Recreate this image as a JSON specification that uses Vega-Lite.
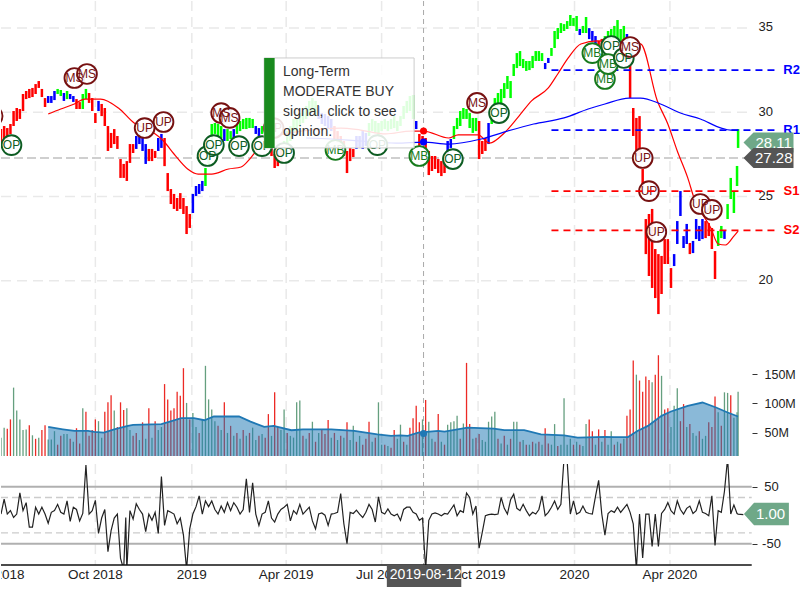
{"$schema":"https://vega.github.io/schema/vega-lite/v6.json","padding":0,"background":"white","config":{"view":{"stroke":null},"font":"Liberation Sans"},"spacing":0,"bounds":"flush","resolve":{"scale":{"color":"independent"}},
"datasets":{
"ticks":[{"d":"2018-07-01","t":"Jul 2018"},{"d":"2018-10-01","t":"Oct 2018"},{"d":"2019-01-01","t":"2019"},{"d":"2019-04-01","t":"Apr 2019"},{"d":"2019-07-01","t":"Jul 2019"},{"d":"2019-10-01","t":"Oct 2019"},{"d":"2020-01-01","t":"2020"},{"d":"2020-04-01","t":"Apr 2020"}],
"cross":[{"d":"2019-08-10"}],
"levels":[{"d":"2019-12-10","d2":"2020-07-11","x":"2020-07-26","p":32.5,"n":"R2","c":"b"},{"d":"2019-12-10","d2":"2020-07-11","x":"2020-07-26","p":28.94,"n":"R1","c":"b"},{"d":"2019-12-10","d2":"2020-07-11","x":"2020-07-26","p":25.32,"n":"S1","c":"r"},{"d":"2019-12-10","d2":"2020-07-11","x":"2020-07-26","p":22.99,"n":"S2","c":"r"}],
"sig":[{"d":"2018-06-25","p":29.77,"k":"UP"},{"d":"2018-07-13","p":28.05,"k":"OP"},{"d":"2018-09-11","p":32.03,"k":"MS"},{"d":"2018-09-23","p":32.27,"k":"MS"},{"d":"2018-11-17","p":29.06,"k":"UP"},{"d":"2018-12-05","p":29.42,"k":"UP"},{"d":"2019-01-16","p":27.4,"k":"OP"},{"d":"2019-01-22","p":28.05,"k":"OP"},{"d":"2019-01-29","p":29.95,"k":"MS"},{"d":"2019-02-06","p":29.66,"k":"MS"},{"d":"2019-02-15","p":27.99,"k":"OP"},{"d":"2019-03-20","p":29.06,"k":"UP"},{"d":"2019-03-09","p":27.99,"k":"OP"},{"d":"2019-03-30","p":27.58,"k":"OP"},{"d":"2019-05-18","p":27.76,"k":"MB"},{"d":"2019-06-27","p":28.05,"k":"OP"},{"d":"2019-08-06","p":27.4,"k":"MB"},{"d":"2019-09-07","p":27.22,"k":"OP"},{"d":"2019-09-30","p":30.55,"k":"MS"},{"d":"2019-10-21","p":29.95,"k":"OP"},{"d":"2020-01-18","p":33.51,"k":"MB"},{"d":"2020-01-30","p":31.97,"k":"MB"},{"d":"2020-02-05","p":33.93,"k":"OP"},{"d":"2020-02-02","p":32.86,"k":"MB"},{"d":"2020-02-17","p":33.22,"k":"OP"},{"d":"2020-02-23","p":33.87,"k":"MS"},{"d":"2020-03-06","p":27.28,"k":"UP"},{"d":"2020-03-12","p":25.32,"k":"UP"},{"d":"2020-03-19","p":22.89,"k":"UP"},{"d":"2020-04-30","p":24.55,"k":"UP"},{"d":"2020-05-11","p":24.2,"k":"UP"}],
"ma":[{"d":"2018-08-17","p":29.89,"c":"r"},{"d":"2018-08-29","p":30.19,"c":"r"},{"d":"2018-09-11","p":30.49,"c":"r"},{"d":"2018-09-21","p":30.78,"c":"r"},{"d":"2018-10-06","p":30.78,"c":"r"},{"d":"2018-10-23","p":30.25,"c":"r"},{"d":"2018-11-07","p":29.36,"c":"r"},{"d":"2018-11-23","p":28.88,"c":"r"},{"d":"2018-12-05","p":28.29,"c":"r"},{"d":"2018-12-15","p":27.52,"c":"r"},{"d":"2018-12-28","p":26.63,"c":"r"},{"d":"2019-01-07","p":26.33,"c":"r"},{"d":"2019-01-20","p":26.33,"c":"r"},{"d":"2019-02-05","p":26.63,"c":"r"},{"d":"2019-02-17","p":26.75,"c":"r"},{"d":"2019-02-26","p":27.28,"c":"r"},{"d":"2019-03-05","p":27.82,"c":"r"},{"d":"2019-03-15","p":28.41,"c":"r"},{"d":"2019-04-05","p":28.77,"c":"r"},{"d":"2019-05-05","p":29.0,"c":"r"},{"d":"2019-05-23","p":29.06,"c":"r"},{"d":"2019-06-11","p":28.94,"c":"r"},{"d":"2019-07-05","p":28.71,"c":"r"},{"d":"2019-07-29","p":28.88,"c":"r"},{"d":"2019-08-10","p":28.88,"c":"r"},{"d":"2019-09-03","p":28.47,"c":"r"},{"d":"2019-09-12","p":28.65,"c":"r"},{"d":"2019-10-01","p":28.65,"c":"r"},{"d":"2019-10-12","p":28.17,"c":"r"},{"d":"2019-10-26","p":28.77,"c":"r"},{"d":"2019-11-09","p":29.77,"c":"r"},{"d":"2019-11-21","p":30.67,"c":"r"},{"d":"2019-12-07","p":31.44,"c":"r"},{"d":"2019-12-16","p":32.27,"c":"r"},{"d":"2019-12-26","p":33.22,"c":"r"},{"d":"2020-01-07","p":34.05,"c":"r"},{"d":"2020-01-23","p":34.23,"c":"r"},{"d":"2020-03-04","p":34.05,"c":"r"},{"d":"2020-03-20","p":30.67,"c":"r"},{"d":"2020-03-30","p":29.3,"c":"r"},{"d":"2020-04-08","p":27.7,"c":"r"},{"d":"2020-04-18","p":26.1,"c":"r"},{"d":"2020-04-24","p":24.91,"c":"r"},{"d":"2020-05-10","p":23.13,"c":"r"},{"d":"2020-05-17","p":22.18,"c":"r"},{"d":"2020-05-24","p":22.12,"c":"r"},{"d":"2020-06-01","p":22.65,"c":"r"},{"d":"2020-06-05","p":22.95,"c":"r"},
{"d":"2019-04-20","p":28.47,"c":"b"},{"d":"2019-05-14","p":28.41,"c":"b"},{"d":"2019-06-11","p":28.29,"c":"b"},{"d":"2019-07-15","p":28.17,"c":"b"},{"d":"2019-08-10","p":28.23,"c":"b"},{"d":"2019-09-03","p":28.11,"c":"b"},{"d":"2019-10-04","p":28.41,"c":"b"},{"d":"2019-10-29","p":28.88,"c":"b"},{"d":"2019-11-23","p":29.3,"c":"b"},{"d":"2019-12-22","p":29.66,"c":"b"},{"d":"2020-01-14","p":30.19,"c":"b"},{"d":"2020-01-30","p":30.49,"c":"b"},{"d":"2020-02-22","p":30.84,"c":"b"},{"d":"2020-03-04","p":30.84,"c":"b"},{"d":"2020-03-23","p":30.49,"c":"b"},{"d":"2020-04-11","p":29.95,"c":"b"},{"d":"2020-04-30","p":29.6,"c":"b"},{"d":"2020-05-20","p":29.06,"c":"b"},{"d":"2020-05-29","p":28.94,"c":"b"},{"d":"2020-06-05","p":28.94,"c":"b"}],
"vm":[{"d":"2018-08-17","m":60.2},{"d":"2018-08-31","m":56.2},{"d":"2018-09-11","m":53.4},{"d":"2018-09-24","m":53.4},{"d":"2018-09-30","m":51.7},{"d":"2018-10-09","m":50.6},{"d":"2018-10-19","m":56.2},{"d":"2018-11-01","m":62},{"d":"2018-11-06","m":63.7},{"d":"2018-12-03","m":64.8},{"d":"2018-12-11","m":69.3},{"d":"2018-12-22","m":75},{"d":"2019-01-03","m":75},{"d":"2019-01-13","m":71.6},{"d":"2019-01-22","m":77.9},{"d":"2019-02-15","m":77.9},{"d":"2019-02-26","m":69.3},{"d":"2019-03-11","m":60.2},{"d":"2019-03-20","m":62},{"d":"2019-04-06","m":54.6},{"d":"2019-04-17","m":56.2},{"d":"2019-05-14","m":56.2},{"d":"2019-06-05","m":53.4},{"d":"2019-06-27","m":47.7},{"d":"2019-07-10","m":44.9},{"d":"2019-07-19","m":46},{"d":"2019-07-26","m":44.9},{"d":"2019-08-05","m":50.6},{"d":"2019-08-24","m":53.4},{"d":"2019-08-30","m":52.3},{"d":"2019-09-21","m":59.1},{"d":"2019-10-16","m":57.4},{"d":"2019-10-26","m":54.6},{"d":"2019-11-14","m":54.6},{"d":"2019-11-30","m":47.7},{"d":"2019-12-22","m":46},{"d":"2020-01-04","m":42},{"d":"2020-01-30","m":43.2},{"d":"2020-02-08","m":43},{"d":"2020-02-21","m":43},{"d":"2020-03-01","m":53.4},{"d":"2020-03-11","m":62},{"d":"2020-03-24","m":79},{"d":"2020-04-02","m":86.4},{"d":"2020-04-18","m":96},{"d":"2020-05-02","m":101.7},{"d":"2020-05-15","m":93.2},{"d":"2020-05-26","m":84.7},{"d":"2020-06-05","m":77.9}],
"bars":[
{"d":"2018-07-03","l":28.2,"h":29,"c":"r","v":42,"k":"g","o":2},
{"d":"2018-07-06","l":28,"h":29.18,"c":"r","v":59,"k":"g","o":28},
{"d":"2018-07-09","l":28.29,"h":29.06,"c":"r","v":57,"k":"r","o":2},
{"d":"2018-07-12","l":28.7,"h":29.3,"c":"r","v":73,"k":"r","o":8},
{"d":"2018-07-15","l":29.18,"h":30.07,"c":"r","v":127,"k":"g","o":-4},
{"d":"2018-07-18","l":29.48,"h":30.25,"c":"r","v":88,"k":"g","o":2},
{"d":"2018-07-21","l":29.6,"h":30.19,"c":"r","v":73,"k":"g","o":39},
{"d":"2018-07-24","l":30.07,"h":31.08,"c":"r","v":55,"k":"g","o":8},
{"d":"2018-07-27","l":30.78,"h":31.26,"c":"r","v":56,"k":"g","o":22},
{"d":"2018-07-30","l":30.84,"h":31.38,"c":"r","v":63,"k":"r","o":-21},
{"d":"2018-08-02","l":30.9,"h":31.44,"c":"r","v":46,"k":"g","o":-21},
{"d":"2018-08-05","l":31.08,"h":31.67,"c":"r","v":40,"k":"r","o":14},
{"d":"2018-08-08","l":31.44,"h":31.85,"c":"r","v":42,"k":"g","o":2},
{"d":"2018-08-11","l":30.9,"h":31.38,"c":"r","v":55,"k":"r","o":14},
{"d":"2018-08-14","l":30.31,"h":30.84,"c":"r","v":63,"k":"r","o":2},
{"d":"2018-08-17","l":30.55,"h":30.96,"c":"b","v":39,"k":"g","o":-14},
{"d":"2018-08-20","l":30.55,"h":30.96,"c":"b","v":39,"k":"g","o":5},
{"d":"2018-08-23","l":30.72,"h":31.26,"c":"b","v":53,"k":"g","o":8},
{"d":"2018-08-26","l":31.08,"h":31.38,"c":"g","v":30,"k":"r","o":19},
{"d":"2018-08-29","l":30.96,"h":31.32,"c":"g","v":45,"k":"r","o":5},
{"d":"2018-09-01","l":30.67,"h":31.14,"c":"b","v":48,"k":"g","o":2},
{"d":"2018-09-04","l":30.78,"h":31.26,"c":"g","v":48,"k":"g","o":25},
{"d":"2018-09-07","l":30.78,"h":31.08,"c":"b","v":40,"k":"r","o":-11},
{"d":"2018-09-10","l":30.61,"h":30.96,"c":"b","v":35,"k":"g","o":14},
{"d":"2018-09-13","l":30.19,"h":30.78,"c":"r","v":58,"k":"r","o":10},
{"d":"2018-09-16","l":30.19,"h":30.6,"c":"r","v":32,"k":"r","o":-10},
{"d":"2018-09-19","l":30.19,"h":31.08,"c":"g","v":92,"k":"g","o":3},
{"d":"2018-09-22","l":30.78,"h":31.38,"c":"g","v":86,"k":"r","o":88},
{"d":"2018-09-25","l":30.55,"h":31.14,"c":"r","v":45,"k":"r","o":2},
{"d":"2018-09-28","l":30.07,"h":30.84,"c":"r","v":55,"k":"r","o":8},
{"d":"2018-10-01","l":29.36,"h":29.95,"c":"r","v":73,"k":"r","o":26},
{"d":"2018-10-04","l":30.07,"h":30.67,"c":"b","v":70,"k":"g","o":-32},
{"d":"2018-10-07","l":29.77,"h":30.49,"c":"r","v":42,"k":"g","o":-5},
{"d":"2018-10-10","l":29.18,"h":30.25,"c":"r","v":86,"k":"r","o":10},
{"d":"2018-10-13","l":27.7,"h":29.18,"c":"r","v":102,"k":"r","o":-64},
{"d":"2018-10-16","l":27.88,"h":28.77,"c":"r","v":114,"k":"r","o":-27},
{"d":"2018-10-19","l":28.11,"h":29,"c":"r","v":88,"k":"g","o":-5},
{"d":"2018-10-22","l":27.82,"h":28.59,"c":"r","v":60,"k":"r","o":2},
{"d":"2018-10-25","l":26.1,"h":27.22,"c":"r","v":102,"k":"r","o":-76},
{"d":"2018-10-28","l":26.1,"h":26.93,"c":"r","v":89,"k":"r","o":-95},
{"d":"2018-10-30","o":-4},
{"d":"2018-10-31","l":25.92,"h":27.1,"c":"r","v":92,"k":"g","o":-95},
{"d":"2018-11-03","l":26.99,"h":28.11,"c":"r","v":55,"k":"g","o":8},
{"d":"2018-11-06","l":27.58,"h":28.11,"c":"r","v":45,"k":"r","o":-7},
{"d":"2018-11-09","l":27.82,"h":28.59,"c":"b","v":50,"k":"r","o":20},
{"d":"2018-11-12","l":28.11,"h":28.71,"c":"b","v":38,"k":"g","o":10},
{"d":"2018-11-15","l":27.7,"h":28.47,"c":"b","v":68,"k":"r","o":2},
{"d":"2018-11-18","l":26.93,"h":28.11,"c":"b","v":40,"k":"g","o":-29},
{"d":"2018-11-21","l":27.1,"h":27.82,"c":"r","v":92,"k":"r","o":2},
{"d":"2018-11-24","l":27.1,"h":27.82,"c":"r","v":42,"k":"g","o":-9},
{"d":"2018-11-27","l":27.28,"h":27.7,"c":"r","v":70,"k":"r","o":5},
{"d":"2018-11-30","l":27.7,"h":28.47,"c":"b","v":55,"k":"g","o":-32},
{"d":"2018-12-03","l":27.88,"h":28.71,"c":"b","v":60,"k":"g","o":68},
{"d":"2018-12-06","l":26.8,"h":28.47,"c":"r","v":133,"k":"r","o":-18},
{"d":"2018-12-09","l":25.32,"h":26.39,"c":"r","v":107,"k":"r","o":8},
{"d":"2018-12-12","l":24.55,"h":25.44,"c":"r","v":88,"k":"r","o":5},
{"d":"2018-12-15","l":24.26,"h":25.15,"c":"r","v":92,"k":"r","o":2},
{"d":"2018-12-18","l":24.14,"h":24.91,"c":"r","v":120,"k":"r","o":-15},
{"d":"2018-12-21","l":24.26,"h":25.2,"c":"r","v":113,"k":"r","o":-5},
{"d":"2018-12-24","l":23.96,"h":24.91,"c":"r","v":160,"k":"r","o":-35},
{"d":"2018-12-27","l":22.77,"h":24.43,"c":"r","v":101,"k":"g","o":-95},
{"d":"2018-12-30","l":23.13,"h":23.96,"c":"r","v":73,"k":"r","o":-24},
{"d":"2019-01-02","l":24.02,"h":25.15,"c":"b","v":84,"k":"g","o":2},
{"d":"2019-01-05","l":25.03,"h":25.62,"c":"b","v":60,"k":"g","o":15},
{"d":"2019-01-08","l":25.15,"h":25.74,"c":"b","v":50,"k":"r","o":34},
{"d":"2019-01-11","l":25.32,"h":25.92,"c":"b","v":73,"k":"g","o":2},
{"d":"2019-01-14","l":25.62,"h":26.69,"c":"g","v":164,"k":"g","o":25},
{"d":"2019-01-17","l":26.8,"h":28.29,"c":"g","v":107,"k":"g","o":15},
{"d":"2019-01-20","l":28.29,"h":29.3,"c":"g","v":90,"k":"g","o":25},
{"d":"2019-01-23","l":28.71,"h":29.36,"c":"g","v":70,"k":"g","o":10},
{"d":"2019-01-26","l":28.47,"h":29.3,"c":"g","v":62,"k":"r","o":2},
{"d":"2019-01-29","l":28.47,"h":29.18,"c":"g","v":55,"k":"g","o":16},
{"d":"2019-02-01","l":28.29,"h":29,"c":"b","v":102,"k":"r","o":5},
{"d":"2019-02-04","l":28.29,"h":29,"c":"g","v":50,"k":"g","o":22},
{"d":"2019-02-07","l":28.41,"h":28.88,"c":"g","v":62,"k":"r","o":8},
{"d":"2019-02-10","l":28.41,"h":29,"c":"b","v":45,"k":"g","o":22},
{"d":"2019-02-13","l":28.71,"h":29.36,"c":"g","v":50,"k":"r","o":14},
{"d":"2019-02-16","l":28.88,"h":29.48,"c":"g","v":40,"k":"g","o":2},
{"d":"2019-02-19","l":29,"h":29.6,"c":"g","v":55,"k":"r","o":10},
{"d":"2019-02-22","l":29,"h":29.66,"c":"g","v":45,"k":"g","o":64},
{"d":"2019-02-25","l":29.06,"h":29.66,"c":"g","v":50,"k":"r","o":5},
{"d":"2019-02-28","l":29.06,"h":29.6,"c":"g","v":59,"k":"g","o":57},
{"d":"2019-03-03","l":28.71,"h":29.18,"c":"b","v":38,"k":"g","o":2},
{"d":"2019-03-06","l":28.59,"h":29.06,"c":"b","v":45,"k":"r","o":-18},
{"d":"2019-03-09","l":28.71,"h":29.18,"c":"g","v":48,"k":"g","o":2},
{"d":"2019-03-12","l":28.29,"h":29.18,"c":"r","v":42,"k":"r","o":5},
{"d":"2019-03-15","l":28,"h":29.18,"c":"r","v":82,"k":"r","o":25},
{"d":"2019-03-18","l":27.4,"h":28.29,"c":"r","v":45,"k":"g","o":-5},
{"d":"2019-03-21","l":26.69,"h":27.52,"c":"r","v":119,"k":"r","o":-12},
{"d":"2019-03-24","l":26.8,"h":27.7,"c":"r","v":60,"k":"r","o":2},
{"d":"2019-03-27","l":27.1,"h":27.82,"c":"r","v":55,"k":"g","o":10},
{"d":"2019-03-30","l":27.7,"h":28.29,"c":"g","v":90,"k":"g","o":14},
{"d":"2019-04-02","l":28,"h":28.88,"c":"g","v":50,"k":"r","o":19},
{"d":"2019-04-05","l":28.29,"h":29.18,"c":"g","v":45,"k":"g","o":-10},
{"d":"2019-04-08","l":28.77,"h":29.6,"c":"g","v":42,"k":"g","o":8},
{"d":"2019-04-11","l":28.88,"h":29.6,"c":"g","v":102,"k":"g","o":2},
{"d":"2019-04-14","l":29.18,"h":29.95,"c":"g","v":105,"k":"g","o":19},
{"d":"2019-04-17","l":29.36,"h":30.07,"c":"g","v":45,"k":"r","o":2},
{"d":"2019-04-20","l":29.6,"h":30.37,"c":"g","v":40,"k":"g","o":8},
{"d":"2019-04-23","l":29.77,"h":30.67,"c":"g","v":50,"k":"r","o":14},
{"d":"2019-04-26","l":30.07,"h":30.84,"c":"g","v":69,"k":"g","o":-10},
{"d":"2019-04-29","l":29.77,"h":30.67,"c":"g","v":35,"k":"r","o":-24},
{"d":"2019-05-02","l":29.6,"h":30.37,"c":"b","v":50,"k":"g","o":2},
{"d":"2019-05-05","l":29.3,"h":29.95,"c":"b","v":55,"k":"r","o":4},
{"d":"2019-05-08","l":29.18,"h":29.9,"c":"b","v":48,"k":"r","o":0},
{"d":"2019-05-11","l":29.06,"h":29.77,"c":"b","v":72,"k":"r","o":-18},
{"d":"2019-05-14","l":28.88,"h":29.6,"c":"b","v":42,"k":"g","o":2},
{"d":"2019-05-17","l":28.41,"h":29.18,"c":"r","v":50,"k":"r","o":3},
{"d":"2019-05-20","l":28.17,"h":28.88,"c":"r","v":38,"k":"g","o":5},
{"d":"2019-05-23","l":27.7,"h":28.59,"c":"r","v":45,"k":"r","o":38},
{"d":"2019-05-26","l":27.4,"h":28.29,"c":"r","v":42,"k":"g","o":-15},
{"d":"2019-05-29","l":26.39,"h":27.7,"c":"r","v":68,"k":"r","o":-50},
{"d":"2019-06-01","l":27.1,"h":27.88,"c":"r","v":38,"k":"g","o":5},
{"d":"2019-06-04","l":27.34,"h":27.82,"c":"r","v":62,"k":"g","o":3},
{"d":"2019-06-07","l":27.82,"h":28.59,"c":"b","v":35,"k":"r","o":9},
{"d":"2019-06-10","l":27.93,"h":28.59,"c":"b","v":45,"k":"g","o":2},
{"d":"2019-06-13","l":27.82,"h":28.88,"c":"b","v":30,"k":"r","o":-4},
{"d":"2019-06-16","l":28,"h":28.77,"c":"b","v":40,"k":"r","o":5},
{"d":"2019-06-19","l":28.59,"h":29.36,"c":"g","v":69,"k":"r","o":19},
{"d":"2019-06-22","l":28.88,"h":29.6,"c":"g","v":35,"k":"g","o":10},
{"d":"2019-06-25","l":28.77,"h":29.48,"c":"g","v":42,"k":"r","o":-12},
{"d":"2019-06-28","l":28.65,"h":29.36,"c":"g","v":102,"k":"g","o":32},
{"d":"2019-07-01","l":28.88,"h":29.48,"c":"g","v":30,"k":"g","o":5},
{"d":"2019-07-04","l":29,"h":29.6,"c":"g","v":30,"k":"r","o":2},
{"d":"2019-07-07","l":28.88,"h":29.48,"c":"g","v":28,"k":"g","o":11},
{"d":"2019-07-10","l":29,"h":29.6,"c":"g","v":25,"k":"r","o":2},
{"d":"2019-07-13","l":29.06,"h":29.77,"c":"g","v":55,"k":"r","o":-1},
{"d":"2019-07-16","l":28.88,"h":29.48,"c":"g","v":40,"k":"g","o":2},
{"d":"2019-07-19","l":29.18,"h":29.77,"c":"g","v":64,"k":"g","o":-9},
{"d":"2019-07-22","l":29.6,"h":30.37,"c":"g","v":35,"k":"r","o":10},
{"d":"2019-07-25","l":29.95,"h":30.67,"c":"g","v":30,"k":"g","o":14},
{"d":"2019-07-28","l":30.07,"h":30.96,"c":"g","v":59,"k":"r","o":14},
{"d":"2019-07-31","l":29.6,"h":31.02,"c":"g","v":75,"k":"r","o":5},
{"d":"2019-08-03","l":29,"h":29.48,"c":"b","v":96,"k":"r","o":2},
{"d":"2019-08-06","l":28,"h":28.71,"c":"r","v":68,"k":"r","o":-9},
{"d":"2019-08-09","l":28.11,"h":28.59,"c":"r","v":73,"k":"g","o":-5},
{"d":"2019-08-12","l":27.7,"h":28.47,"c":"r","v":106,"k":"r","o":-95},
{"d":"2019-08-15","l":26.27,"h":27.7,"c":"r","v":69,"k":"g","o":-9},
{"d":"2019-08-18","l":26.51,"h":27.4,"c":"r","v":40,"k":"g","o":2},
{"d":"2019-08-21","l":26.63,"h":27.4,"c":"r","v":35,"k":"r","o":4},
{"d":"2019-08-24","l":26.39,"h":27.22,"c":"r","v":82,"k":"r","o":2},
{"d":"2019-08-27","l":26.21,"h":27.1,"c":"r","v":35,"k":"g","o":-1},
{"d":"2019-08-30","l":26.39,"h":27.4,"c":"r","v":30,"k":"r","o":3},
{"d":"2019-09-02","l":27.4,"h":28.29,"c":"b","v":64,"k":"g","o":2},
{"d":"2019-09-05","l":27.88,"h":28.41,"c":"b","v":68,"k":"g","o":10},
{"d":"2019-09-08","l":28.41,"h":29.18,"c":"g","v":70,"k":"g","o":18},
{"d":"2019-09-11","l":29,"h":29.66,"c":"g","v":79,"k":"g","o":-1},
{"d":"2019-09-14","l":29.18,"h":30.07,"c":"g","v":40,"k":"r","o":8},
{"d":"2019-09-17","l":29.6,"h":30.25,"c":"g","v":66,"k":"g","o":5},
{"d":"2019-09-20","l":29.6,"h":30.19,"c":"g","v":169,"k":"r","o":39},
{"d":"2019-09-23","l":29.06,"h":29.95,"c":"g","v":65,"k":"r","o":31},
{"d":"2019-09-26","l":28.77,"h":29.66,"c":"g","v":40,"k":"g","o":2},
{"d":"2019-09-29","l":28.88,"h":29.66,"c":"g","v":42,"k":"r","o":16},
{"d":"2019-10-02","l":27.22,"h":29.48,"c":"r","v":48,"k":"r","o":-58},
{"d":"2019-10-05","l":27.52,"h":28.29,"c":"r","v":38,"k":"g","o":-30},
{"d":"2019-10-08","l":27.7,"h":28.47,"c":"r","v":35,"k":"g","o":-1},
{"d":"2019-10-11","l":28.11,"h":29.36,"c":"b","v":69,"k":"g","o":1},
{"d":"2019-10-14","l":29.3,"h":30.07,"c":"g","v":78,"k":"g","o":2},
{"d":"2019-10-17","l":30.07,"h":30.84,"c":"g","v":86,"k":"g","o":1},
{"d":"2019-10-20","l":30.37,"h":31.14,"c":"g","v":40,"k":"r","o":2},
{"d":"2019-10-23","l":30.25,"h":31.38,"c":"g","v":32,"k":"g","o":31},
{"d":"2019-10-26","l":30.84,"h":31.73,"c":"g","v":45,"k":"r","o":12},
{"d":"2019-10-29","l":31.38,"h":32.15,"c":"g","v":30,"k":"g","o":2},
{"d":"2019-11-01","l":30.84,"h":31.85,"c":"g","v":40,"k":"r","o":27},
{"d":"2019-11-04","l":32.15,"h":32.86,"c":"g","v":69,"k":"g","o":37},
{"d":"2019-11-07","l":32.62,"h":33.51,"c":"g","v":69,"k":"g","o":12},
{"d":"2019-11-10","l":32.74,"h":33.63,"c":"g","v":35,"k":"r","o":8},
{"d":"2019-11-13","l":32.62,"h":33.16,"c":"g","v":38,"k":"g","o":19},
{"d":"2019-11-16","l":32.45,"h":33.04,"c":"g","v":30,"k":"r","o":8},
{"d":"2019-11-19","l":32.5,"h":33.04,"c":"g","v":30,"k":"g","o":-1},
{"d":"2019-11-22","l":32.62,"h":33.34,"c":"g","v":35,"k":"r","o":5},
{"d":"2019-11-25","l":33.04,"h":33.63,"c":"g","v":32,"k":"g","o":2},
{"d":"2019-11-28","l":33.04,"h":33.63,"c":"g","v":35,"k":"r","o":10},
{"d":"2019-12-01","l":33.04,"h":33.51,"c":"g","v":30,"k":"g","o":34},
{"d":"2019-12-04","l":32.56,"h":32.92,"c":"b","v":58,"k":"r","o":-1},
{"d":"2019-12-07","l":32.92,"h":33.22,"c":"b","v":32,"k":"r","o":5},
{"d":"2019-12-10","l":33.34,"h":33.81,"c":"g","v":30,"k":"g","o":14},
{"d":"2019-12-13","l":33.81,"h":34.82,"c":"g","v":65,"k":"g","o":25},
{"d":"2019-12-16","l":34.34,"h":35,"c":"g","v":28,"k":"r","o":10},
{"d":"2019-12-19","l":34.7,"h":35.29,"c":"g","v":30,"k":"g","o":19},
{"d":"2019-12-22","l":34.82,"h":35.23,"c":"g","v":109,"k":"g","o":100},
{"d":"2019-12-25","l":34.94,"h":35.41,"c":"g","v":30,"k":"g","o":95},
{"d":"2019-12-28","l":35.12,"h":35.77,"c":"g","v":40,"k":"g","o":2},
{"d":"2019-12-31","l":35.12,"h":35.59,"c":"g","v":30,"k":"r","o":25},
{"d":"2020-01-03","l":34.82,"h":35.71,"c":"g","v":35,"k":"g","o":2},
{"d":"2020-01-06","l":34.58,"h":34.94,"c":"b","v":30,"k":"r","o":5},
{"d":"2020-01-09","l":34.7,"h":35.12,"c":"g","v":28,"k":"g","o":16},
{"d":"2020-01-12","l":34.7,"h":35.65,"c":"g","v":65,"k":"g","o":5},
{"d":"2020-01-15","l":34.34,"h":34.99,"c":"b","v":73,"k":"r","o":3},
{"d":"2020-01-18","l":34.23,"h":34.82,"c":"b","v":53,"k":"r","o":2},
{"d":"2020-01-21","l":33.93,"h":34.52,"c":"b","v":30,"k":"g","o":33},
{"d":"2020-01-24","l":33.75,"h":34.23,"c":"r","v":56,"k":"r","o":61},
{"d":"2020-01-27","l":33.87,"h":34.35,"c":"r","v":35,"k":"g","o":2},
{"d":"2020-01-30","l":34.05,"h":34.52,"c":"g","v":55,"k":"r","o":-35},
{"d":"2020-02-02","l":34.11,"h":34.82,"c":"g","v":30,"k":"g","o":3},
{"d":"2020-02-05","l":34.34,"h":34.94,"c":"g","v":53,"k":"g","o":8},
{"d":"2020-02-08","l":34.34,"h":35.12,"c":"g","v":30,"k":"r","o":5},
{"d":"2020-02-11","l":34.34,"h":35.47,"c":"g","v":35,"k":"g","o":14},
{"d":"2020-02-14","l":34.23,"h":34.94,"c":"g","v":32,"k":"r","o":5},
{"d":"2020-02-17","l":34.23,"h":35.12,"c":"g","v":40,"k":"g","o":12},
{"d":"2020-02-20","l":34.23,"h":34.64,"c":"b","v":79,"k":"r","o":19},
{"d":"2020-02-23","l":30.84,"h":33.63,"c":"r","v":90,"k":"r","o":5},
{"d":"2020-02-26","l":28.59,"h":30.25,"c":"r","v":173,"k":"r","o":-15},
{"d":"2020-02-29","l":27.4,"h":29.66,"c":"r","v":149,"k":"g","o":-95},
{"d":"2020-03-03","l":27.4,"h":29.77,"c":"r","v":139,"k":"r","o":2},
{"d":"2020-03-06","l":25.5,"h":26.63,"c":"r","v":120,"k":"r","o":-75},
{"d":"2020-03-09","l":21.58,"h":23.66,"c":"r","v":146,"k":"r","o":2},
{"d":"2020-03-12","l":20.28,"h":23.96,"c":"r","v":140,"k":"r","o":2},
{"d":"2020-03-15","l":19.57,"h":24.26,"c":"r","v":136,"k":"g","o":-55},
{"d":"2020-03-18","l":18.97,"h":21.88,"c":"r","v":149,"k":"r","o":2},
{"d":"2020-03-21","l":18.02,"h":21.58,"c":"r","v":182,"k":"r","o":-55},
{"d":"2020-03-24","l":19.21,"h":21.47,"c":"r","v":147,"k":"g","o":3},
{"d":"2020-03-27","l":20.99,"h":22.47,"c":"r","v":90,"k":"r","o":10},
{"d":"2020-03-30","l":20.99,"h":22.47,"c":"r","v":92,"k":"r","o":22},
{"d":"2020-04-02","l":19.57,"h":20.75,"c":"r","v":60,"k":"g","o":8},
{"d":"2020-04-05","l":20.87,"h":21.58,"c":"b","v":96,"k":"g","o":2},
{"d":"2020-04-08","l":22.18,"h":23.54,"c":"b","v":126,"k":"g","o":25},
{"d":"2020-04-11","l":23.84,"h":25.32,"c":"b","v":70,"k":"r","o":10},
{"d":"2020-04-14","l":21.94,"h":22.65,"c":"b","v":99,"k":"r","o":2},
{"d":"2020-04-17","l":22.18,"h":23.37,"c":"b","v":60,"k":"g","o":12},
{"d":"2020-04-20","l":21.58,"h":22.24,"c":"r","v":65,"k":"r","o":16},
{"d":"2020-04-23","l":21.64,"h":22.36,"c":"b","v":50,"k":"g","o":3},
{"d":"2020-04-26","l":22.47,"h":23.66,"c":"b","v":45,"k":"g","o":8},
{"d":"2020-04-29","l":22.36,"h":23.25,"c":"b","v":53,"k":"r","o":25},
{"d":"2020-05-02","l":22.47,"h":23.66,"c":"b","v":40,"k":"g","o":5},
{"d":"2020-05-05","l":22.53,"h":23.54,"c":"r","v":45,"k":"g","o":3},
{"d":"2020-05-08","l":22.65,"h":23.42,"c":"r","v":68,"k":"r","o":-1},
{"d":"2020-05-11","l":21.88,"h":23.13,"c":"r","v":60,"k":"r","o":34},
{"d":"2020-05-14","l":20.1,"h":21.76,"c":"r","v":112,"k":"r","o":-53},
{"d":"2020-05-17","l":22.06,"h":22.95,"c":"g","v":85,"k":"g","o":8},
{"d":"2020-05-20","l":22.53,"h":23.25,"c":"g","v":62,"k":"r","o":5},
{"d":"2020-05-23","l":22.48,"h":22.95,"c":"b","v":119,"k":"g","o":42},
{"d":"2020-05-26","l":23.66,"h":24.55,"c":"g","v":118,"k":"g","o":100},
{"d":"2020-05-29","l":24.85,"h":26.1,"c":"g","v":114,"k":"r","o":2},
{"d":"2020-06-01","l":24.02,"h":25.32,"c":"g","v":76,"k":"g","o":18},
{"d":"2020-06-04","l":25.62,"h":26.81,"c":"g","v":85,"k":"g","o":3},
{"d":"2020-06-05","l":27.88,"h":29,"c":"g","v":120,"k":"g","o":2},
{"d":"2020-06-10","o":1}
]},
"vconcat":[
{"width":800,"height":352,
"encoding":{"x":{"field":"d","type":"temporal","axis":null,"scale":{"type":"utc","domain":["2018-07-03","2020-08-04"],"nice":false}}},
"layer":[
{"data":{"values":[{"d":"2018-07-03","d2":"2020-06-18","p":35},{"d":"2018-07-03","d2":"2020-06-18","p":30},{"d":"2018-07-03","d2":"2020-06-18","p":25},{"d":"2018-07-03","d2":"2020-06-18","p":20}]},"mark":{"type":"rule","color":"#e9e9e9","strokeWidth":1.5,"strokeDash":[10,6]},"encoding":{"x2":{"field":"d2"},"y":{"field":"p","type":"quantitative","scale":{"domain":[15.71,36.6],"nice":false,"zero":false},"axis":{"orient":"right","offset":-49,"values":[20,25,30,35],"grid":false,"domain":false,"ticks":false,"title":null,"labelPadding":6,"labelFontSize":13,"labelColor":"#222","labelOffset":-1,"labelFont":"Liberation Sans"}}}},
{"data":{"name":"ticks"},"transform":[{"filter":"datum.t!='Jul 2018'"}],"mark":{"type":"rule","color":"#e9e9e9","strokeWidth":1.5,"strokeDash":[10,6]},"encoding":{}},
{"data":{"values":[{"d":"2018-07-03","d2":"2020-06-12","p":27.28}]},"mark":{"type":"rule","color":"#cfcfcf","strokeWidth":2,"strokeDash":[9,4]},"encoding":{"x2":{"field":"d2"},"y":{"field":"p","type":"quantitative"}}},
{"data":{"name":"cross"},"mark":{"type":"rule","color":"#aaaaaa","strokeWidth":1,"strokeDash":[5,4]},"encoding":{}},
{"data":{"name":"bars"},"transform":[{"filter":"datum.l"}],"mark":{"type":"rule","strokeWidth":2.5,"clip":true},"encoding":{"y":{"field":"l","type":"quantitative"},"y2":{"field":"h"},"color":{"field":"c","type":"nominal","legend":null,"scale":{"domain":["r","b","g"],"range":["#ff0000","#0000ff","#00ff00"]}}}},
{"data":{"name":"ma"},"mark":{"type":"line","strokeWidth":1.2,"interpolate":"monotone"},"encoding":{"y":{"field":"p","type":"quantitative"},"color":{"field":"c","type":"nominal","legend":null}}},
{"data":{"name":"levels"},"transform":[{"filter":"datum.n!='S1'"}],"mark":{"type":"rule","strokeWidth":1.7,"strokeDash":[7,5]},"encoding":{"x2":{"field":"d2"},"y":{"field":"p","type":"quantitative"},"color":{"field":"c","type":"nominal","legend":null}}},
{"data":{"name":"sig"},"mark":{"type":"circle","fill":"#ffffff","opacity":1,"fillOpacity":0.93,"size":390,"strokeWidth":1.9,"clip":true},"encoding":{"y":{"field":"p","type":"quantitative"},"stroke":{"field":"k","type":"nominal","legend":null,"scale":{"domain":["OP","MB","UP","MS"],"range":["#0d5c22","#167a1c","#761111","#761111"]}}}},
{"data":{"name":"sig"},"mark":{"type":"text","fontSize":12,"baseline":"middle","align":"center","clip":true},"encoding":{"y":{"field":"p","type":"quantitative"},"text":{"field":"k"},"fill":{"field":"k","type":"nominal","legend":null,"scale":{"domain":["OP","MB","UP","MS"],"range":["#0d5c22","#167a1c","#761111","#761111"]}}}},
{"data":{"name":"levels"},"transform":[{"filter":"datum.n=='S1'"}],"mark":{"type":"rule","strokeWidth":1.7,"strokeDash":[7,5]},"encoding":{"x2":{"field":"d2"},"y":{"field":"p","type":"quantitative"},"color":{"field":"c","type":"nominal","legend":null}}},
{"data":{"values":[{"d":"2019-08-10","p":28.88,"c":"r"},{"d":"2019-08-10","p":28.23,"c":"b"}]},"mark":{"type":"circle","size":50,"opacity":1},"encoding":{"y":{"field":"p","type":"quantitative"},"color":{"field":"c","type":"nominal","legend":null}}},
{"data":{"name":"levels"},"mark":{"type":"text","fontWeight":"bold","fontSize":13,"align":"center","baseline":"middle"},"encoding":{"x":{"field":"x","type":"temporal"},"y":{"field":"p","type":"quantitative"},"text":{"field":"n"},"color":{"field":"c","type":"nominal","legend":null}}},
{"data":{"values":[{"d":"2020-07-04","p":28.2}]},"mark":{"type":"point","shape":"M-1,0L-0.6,-0.4L1,-0.4L1,0.4L-0.6,0.4Z","filled":true,"size":2500,"fill":"#6fa888","opacity":1},"encoding":{"y":{"field":"p","type":"quantitative"}}},
{"data":{"values":[{"d":"2020-07-09","p":28.2,"t":"28.11"}]},"mark":{"type":"text","fill":"#ffffff","fontSize":15,"align":"center","baseline":"middle"},"encoding":{"y":{"field":"p","type":"quantitative"},"text":{"field":"t"}}},
{"data":{"values":[{"d":"2020-07-04","p":27.28}]},"mark":{"type":"point","shape":"M-1,0L-0.6,-0.4L1,-0.4L1,0.4L-0.6,0.4Z","filled":true,"size":2500,"fill":"#555555","opacity":1},"encoding":{"y":{"field":"p","type":"quantitative"}}},
{"data":{"values":[{"d":"2020-07-09","p":27.28,"t":"27.28"}]},"mark":{"type":"text","fill":"#ffffff","fontSize":15,"align":"center","baseline":"middle"},"encoding":{"y":{"field":"p","type":"quantitative"},"text":{"field":"t"}}},
{"data":{"values":[{"d":"2019-03-11","d2":"2019-08-01","p":33.22,"p2":27.88}]},"mark":{"type":"rect","fill":"#ffffff","fillOpacity":0.87,"stroke":"#cccccc","strokeWidth":1},"encoding":{"x2":{"field":"d2"},"y":{"field":"p","type":"quantitative"},"y2":{"field":"p2"}}},
{"data":{"values":[{"d":"2019-03-11","d2":"2019-03-21","p":33.22,"p2":27.88}]},"mark":{"type":"rect","fill":"#198a1e"},"encoding":{"x2":{"field":"d2"},"y":{"field":"p","type":"quantitative"},"y2":{"field":"p2"}}},
{"data":{"values":[{"d":"2019-03-29","p":32.39,"t":"Long-Term"},{"d":"2019-03-29","p":31.2,"t":"MODERATE BUY"},{"d":"2019-03-29","p":30.01,"t":"signal, click to see"},{"d":"2019-03-29","p":28.83,"t":"opinion."}]},"mark":{"type":"text","fontSize":14,"fill":"#333333","align":"left","baseline":"middle"},"encoding":{"y":{"field":"p","type":"quantitative"},"text":{"field":"t"}}}
]},
{"width":800,"height":103,
"encoding":{"x":{"field":"d","type":"temporal","axis":null,"scale":{"type":"utc","domain":["2018-07-03","2020-08-04"],"nice":false}}},
"layer":[
{"data":{"name":"ticks"},"transform":[{"filter":"datum.t!='Jul 2018'"}],"mark":{"type":"rule","color":"#e9e9e9","strokeWidth":1.5,"strokeDash":[10,6]},"encoding":{}},
{"data":{"name":"cross"},"mark":{"type":"rule","color":"#aaaaaa","strokeWidth":1,"strokeDash":[5,4]},"encoding":{}},
{"data":{"name":"bars"},"transform":[{"filter":"datum.l"}],"mark":{"type":"rule","strokeWidth":1.3,"clip":true},"encoding":{"y":{"field":"v","type":"quantitative","scale":{"domain":[10.8,185.8],"nice":false,"zero":false},"axis":{"orient":"right","offset":-49,"values":[50,100,150],"grid":false,"domain":false,"title":null,"tickSize":5,"tickColor":"#333333","labelPadding":7,"labelFontSize":12.5,"labelColor":"#222","labelExpr":"datum.value+'M'","labelFont":"Liberation Sans"}},"y2":{"datum":10.8},"color":{"field":"k","type":"nominal","legend":null,"scale":{"domain":["g","r"],"range":["#659f7f","#ec2a25"]}}}},
{"data":{"name":"vm"},"mark":{"type":"area","color":"#1f78b4","fillOpacity":0.52,"line":{"color":"#1f78b4","strokeWidth":1.8}},"encoding":{"y":{"field":"m","type":"quantitative"},"y2":{"datum":10.8}}},
{"data":{"values":[{"d":"2019-08-10","m":49}]},"mark":{"type":"circle","size":50,"color":"#1f78b4","opacity":1},"encoding":{"y":{"field":"m","type":"quantitative"}}}
]},
{"width":800,"height":8,"data":{"name":"cross"},"mark":{"type":"rule","color":"#aaaaaa","strokeWidth":1,"strokeDash":[5,4]},"encoding":{"x":{"field":"d","type":"temporal","axis":null,"scale":{"type":"utc","domain":["2018-07-03","2020-08-04"],"nice":false}}}},
{"width":800,"height":101,
"encoding":{"x":{"field":"d","type":"temporal","axis":null,"scale":{"type":"utc","domain":["2018-07-03","2020-08-04"],"nice":false}}},
"layer":[
{"data":{"name":"ticks"},"transform":[{"filter":"datum.t!='Jul 2018'"}],"mark":{"type":"rule","color":"#e9e9e9","strokeWidth":1.5,"strokeDash":[10,6]},"encoding":{}},
{"data":{"name":"cross"},"mark":{"type":"rule","color":"#aaaaaa","strokeWidth":1,"strokeDash":[5,4]},"encoding":{}},
{"data":{"values":[{"d":"2018-07-03","d2":"2020-06-18","y":50},{"d":"2018-07-03","d2":"2020-06-18","y":-50}]},"mark":{"type":"rule","color":"#b0b0b0","strokeWidth":2},"encoding":{"x2":{"field":"d2"},"y":{"field":"y","type":"quantitative","scale":{"domain":[-87.4,89.8],"nice":false,"zero":false},"axis":{"orient":"right","offset":-49,"values":[50,-50],"grid":false,"domain":false,"title":null,"tickSize":5,"tickColor":"#333333","labelPadding":14,"labelAlign":"center","labelFontSize":13,"labelColor":"#222","labelExpr":"''+datum.value","labelFont":"Liberation Sans"}}}},
{"data":{"values":[{"d":"2018-07-03","d2":"2020-06-18","y":31},{"d":"2018-07-03","d2":"2020-06-18","y":-31}]},"mark":{"type":"rule","color":"#cccccc","strokeWidth":1.3,"strokeDash":[7,4]},"encoding":{"x2":{"field":"d2"},"y":{"field":"y","type":"quantitative"}}},
{"data":{"name":"bars"},"mark":{"type":"line","color":"#222222","strokeWidth":1.2,"clip":true},"encoding":{"y":{"field":"o","type":"quantitative"}}},
{"data":{"values":[{"d":"2020-07-02","o":2}]},"mark":{"type":"point","shape":"M-1,0L-0.55,-0.5L1,-0.5L1,0.5L-0.55,0.5Z","filled":true,"size":2025,"fill":"#6fa888","opacity":1},"encoding":{"y":{"field":"o","type":"quantitative"}}},
{"data":{"values":[{"d":"2020-07-06","o":2,"t":"1.00"}]},"mark":{"type":"text","fill":"#ffffff","fontSize":15,"align":"center","baseline":"middle"},"encoding":{"y":{"field":"o","type":"quantitative"},"text":{"field":"t"}}}
]},
{"width":800,"height":36,
"encoding":{"x":{"field":"d","type":"temporal","axis":null,"scale":{"type":"utc","domain":["2018-07-03","2020-08-04"],"nice":false}}},
"layer":[
{"data":{"values":[{"d":"2018-07-03","d2":"2020-06-18"}]},"mark":{"type":"rule","color":"#111111","strokeWidth":1.6},"encoding":{"x2":{"field":"d2"},"y":{"value":0}}},
{"data":{"name":"ticks"},"mark":{"type":"text","fontSize":13.5,"fill":"#222222","align":"center","baseline":"middle","clip":true},"encoding":{"y":{"value":10},"text":{"field":"t"}}},
{"data":{"values":[{"d":"2019-07-06","d2":"2019-09-15"}]},"mark":{"type":"rect","fill":"#555555"},"encoding":{"x2":{"field":"d2"},"y":{"value":0},"y2":{"value":22}}},
{"data":{"values":[{"d":"2019-08-12","t":"2019-08-12"}]},"mark":{"type":"text","fontSize":14,"fill":"#ffffff","align":"center","baseline":"middle"},"encoding":{"y":{"value":10},"text":{"field":"t"}}}
]}
]}
